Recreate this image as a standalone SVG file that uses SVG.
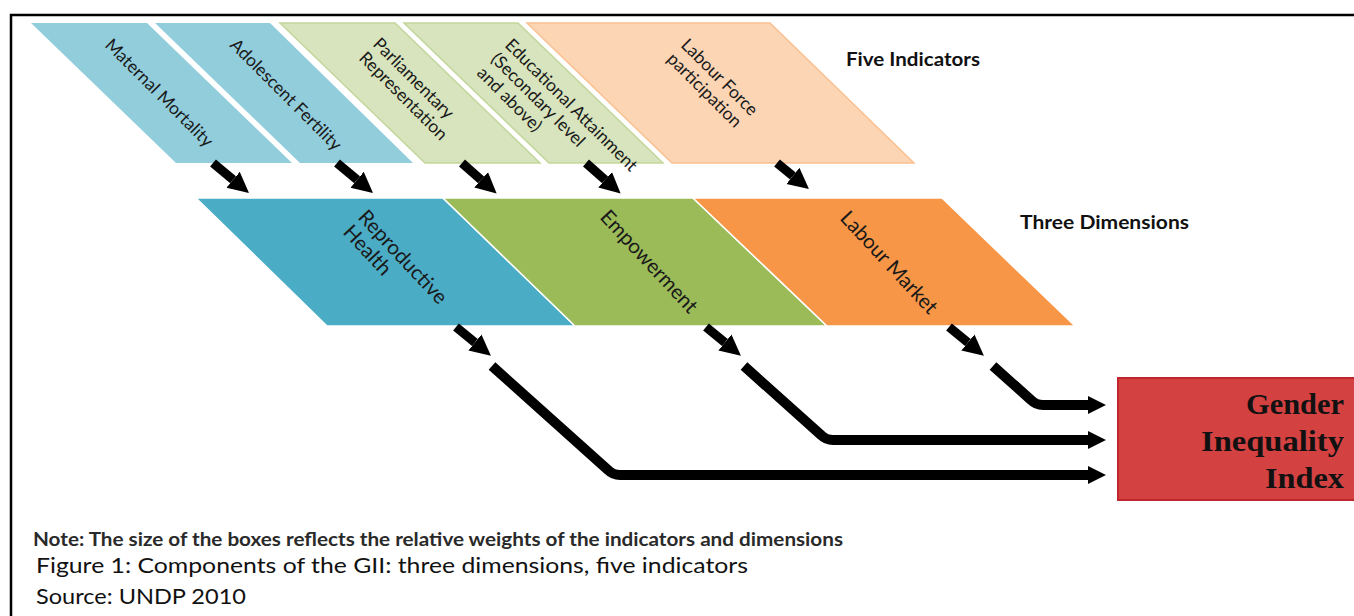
<svg xmlns="http://www.w3.org/2000/svg" width="1354" height="616" viewBox="0 0 1354 616">
<style>
.t1{font-family:Lato,"Open Sans",sans-serif;font-size:17.5px;fill:#1a1a1a}
.t2{font-family:Lato,"Open Sans",sans-serif;font-size:20.5px;fill:#1a1a1a}
.hd{font-family:Lato,"Open Sans",sans-serif;font-size:18px;font-weight:bold;fill:#111}
.cap{font-family:Lato,"Open Sans",sans-serif;font-size:22px;fill:#111}
.note{font-family:Lato,"Open Sans",sans-serif;font-size:18px;font-weight:bold;fill:#2a2a2a}
.gii{font-family:"Liberation Serif",serif;font-size:30px;font-weight:bold;fill:#111}
.conn{fill:none;stroke:#000;stroke-linejoin:round}
</style>
<defs>
<marker id="ah" viewBox="0 0 10 10" refX="0" refY="5" markerWidth="2.3" markerHeight="3.1" orient="auto" markerUnits="strokeWidth"><path d="M0,0 L10,5 L0,10 Z" fill="#000"/></marker>
<marker id="ah2" viewBox="0 0 10 10" refX="0" refY="5" markerWidth="1.8" markerHeight="3" orient="auto" markerUnits="strokeWidth"><path d="M0,0 L10,5 L0,10 Z" fill="#000"/></marker>
</defs>
<rect width="1354" height="616" fill="#fff"/>
<g id="frame" fill="none" stroke="#000" stroke-width="2.5">
<path d="M1356,15 L11,15 L11,618"/>
</g>
<g id="mm"><polygon points="31,23 147,23 292,163 176,163" fill="#92CDDC"/><text class="t1" transform="translate(104,46) rotate(45)">Maternal Mortality</text></g>
<g id="af"><polygon points="155,23 270,23 413,163 300,163" fill="#92CDDC"/><text class="t1" transform="translate(229,46) rotate(45)">Adolescent Fertility</text></g>
<g id="pr"><polygon points="280,23 395,23 540,163 425,163" fill="#D7E4BD" stroke="#C3D69B" stroke-width="1.5"/><text class="t1" transform="translate(372,45) rotate(45)">Parliamentary</text><text class="t1" transform="translate(358,59) rotate(45)">Representation</text></g>
<g id="ea"><polygon points="404,23 518,23 663,163 549,163" fill="#D7E4BD" stroke="#C3D69B" stroke-width="1.5"/><text class="t1" transform="translate(504,46) rotate(45)">Educational Attainment</text><text class="t1" transform="translate(490,60) rotate(45)">(Secondary level</text><text class="t1" transform="translate(476,74) rotate(45)">and above)</text></g>
<g id="lf"><polygon points="527,23 770,23 914,163 672,163" fill="#FCD5B5" stroke="#FAC090" stroke-width="1.5"/><text class="t1" transform="translate(680,46) rotate(45)">Labour Force</text><text class="t1" transform="translate(666,60) rotate(45)">participation</text></g>
<g id="rh"><polygon points="196,198 443,198 575,326 327,326" fill="#4BACC6" stroke="#fff" stroke-width="1.5"/><text class="t2" transform="translate(357,218) rotate(47)">Reproductive</text><text class="t2" transform="translate(342,233) rotate(47)">Health</text></g>
<g id="emp"><polygon points="443,198 693,198 827,326 575,326" fill="#9BBB59" stroke="#fff" stroke-width="1.5"/><text class="t2" transform="translate(599,218) rotate(47)">Empowerment</text></g>
<g id="lm"><polygon points="693,198 942,198 1075,326 827,326" fill="#F79646" stroke="#fff" stroke-width="1.5"/><text class="t2" transform="translate(839,219) rotate(47)">Labour Market</text></g>
<g id="gii"><rect x="1118" y="378" width="240" height="122" fill="#D34141" stroke="#C0272D" stroke-width="2"/>
<text class="gii" x="1344" y="414" text-anchor="end" textLength="98" lengthAdjust="spacingAndGlyphs">Gender</text>
<text class="gii" x="1344" y="451" text-anchor="end" textLength="143" lengthAdjust="spacingAndGlyphs">Inequality</text>
<text class="gii" x="1344" y="488" text-anchor="end" textLength="79" lengthAdjust="spacingAndGlyphs">Index</text></g>
<g id="labels">
<text class="hd" x="846" y="66" textLength="134" lengthAdjust="spacingAndGlyphs">Five Indicators</text>
<text class="hd" x="1020" y="229" textLength="169" lengthAdjust="spacingAndGlyphs">Three Dimensions</text>
<text class="note" x="33" y="546" textLength="810" lengthAdjust="spacingAndGlyphs">Note: The size of the boxes reflects the relative weights of the indicators and dimensions</text>
<text class="cap" x="36" y="573" textLength="712" lengthAdjust="spacingAndGlyphs">Figure 1: Components of the GII: three dimensions, five indicators</text>
<text class="cap" x="36" y="604" textLength="210" lengthAdjust="spacingAndGlyphs">Source: UNDP 2010</text>
</g>
<g id="connectors">
<g class="conn" stroke-width="9" marker-end="url(#ah)">
<path d="M213,163 L233.1,179.8"/>
<path d="M337,163 L357.1,179.8"/>
<path d="M462,163 L481.1,179.8"/>
<path d="M586,163 L605.1,179.8"/>
<path d="M777,163 L792.9,175.9"/>
<path d="M456,327 L474.9,342.5"/>
<path d="M706,327 L724.9,342.5"/>
<path d="M949,327 L967.9,342.5"/>
</g>
<g class="conn" stroke-width="10" marker-end="url(#ah2)">
<path d="M492,366 L608,470 Q613,475 620,475 L1088,475"/>
<path d="M744,366 L821,435 Q826,440 833,440 L1088,440"/>
<path d="M993,366 L1031,400 Q1036,405 1043,405 L1088,405"/>
</g>
</g>
</svg>
